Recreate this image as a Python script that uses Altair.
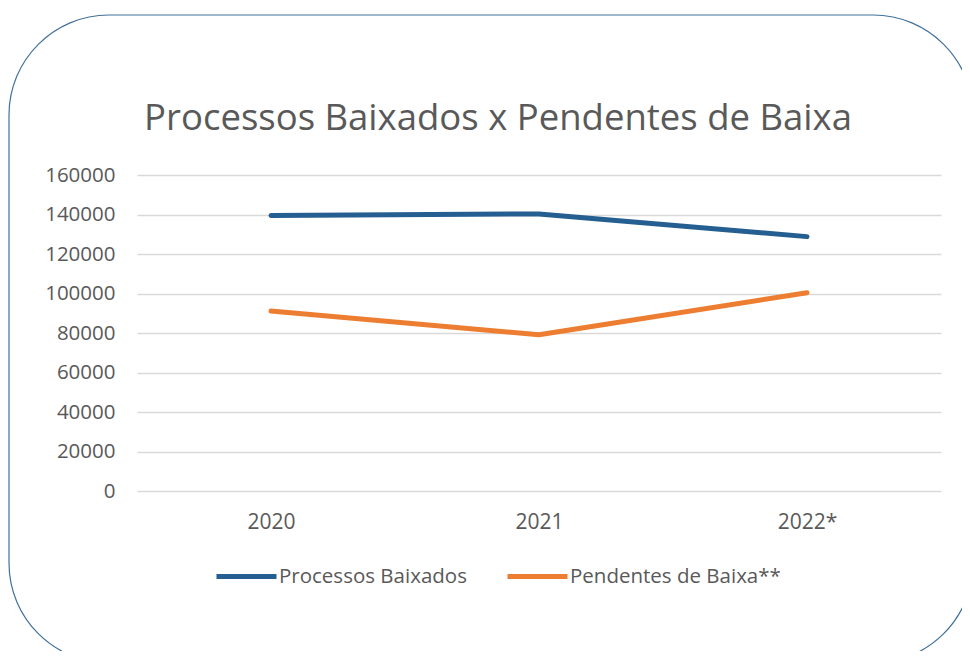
import altair as alt
import pandas as pd

years = ["2020", "2021", "2022*"]
baixados = [139500, 140300, 128800]
pendentes = [91100, 79100, 100400]
series_names = ["Processos Baixados", "Pendentes de Baixa**"]
series_colors = ["#255E91", "#ED7D31"]
y_ticks = [0, 20000, 40000, 60000, 80000, 100000, 120000, 140000, 160000]

rows = []
for yr, v in zip(years, baixados):
    rows.append({"Ano": yr, "Série": series_names[0], "Valor": v})
for yr, v in zip(years, pendentes):
    rows.append({"Ano": yr, "Série": series_names[1], "Valor": v})
df = pd.DataFrame(rows)

FONT = "Open Sans"
GRAY = "#595959"

border = alt.Chart(pd.DataFrame({"k": [0]})).mark_rect(
    fill="transparent", stroke="#41719C", strokeWidth=1.2, cornerRadius=100
).encode(
    x=alt.value(-128), x2=alt.value(836), y=alt.value(-160), y2=alt.value(488)
)

lines = alt.Chart(df).mark_line(strokeWidth=5, strokeCap="round", strokeJoin="round").encode(
    x=alt.X("Ano:N", sort=years, scale=alt.Scale(type="point", padding=0.5),
            axis=alt.Axis(title=None, labelAngle=0, ticks=False, domain=False, grid=False,
                          labelFontSize=21, labelColor=GRAY, labelFont=FONT, labelPadding=20)),
    y=alt.Y("Valor:Q", scale=alt.Scale(domain=[0, 160000], nice=False),
            axis=alt.Axis(title=None, values=y_ticks, format="d", ticks=False, domain=False,
                          grid=True, gridColor="#D9D9D9", gridWidth=1.3,
                          labelFontSize=20.5, labelColor=GRAY, labelFont=FONT, labelPadding=22)),
    color=alt.Color("Série:N", sort=series_names,
                    scale=alt.Scale(domain=series_names, range=series_colors),
                    legend=alt.Legend(title=None, orient="none", legendX=77, legendY=369,
                                      direction="horizontal", symbolType="stroke",
                                      symbolStrokeWidth=5, symbolSize=3600, labelFontSize=20.5,
                                      labelColor=GRAY, labelFont=FONT, labelOffset=0,
                                      labelLimit=400, columnPadding=30)),
    detail="Série:N",
)

chart = alt.layer(border, lines).properties(
    width=804, height=316,
    padding={"left": 129, "top": 167, "right": 21, "bottom": 160},
    autosize=alt.AutoSizeParams(type="none"),
    title=alt.TitleParams("Processos Baixados x Pendentes de Baixa", fontSize=36.5, font=FONT,
                          color=GRAY, fontWeight="normal", anchor="middle", dx=-41, offset=-123),
).configure_view(stroke=None)

chart.save("out.html", embed_options={"renderer": "svg", "actions": False})
